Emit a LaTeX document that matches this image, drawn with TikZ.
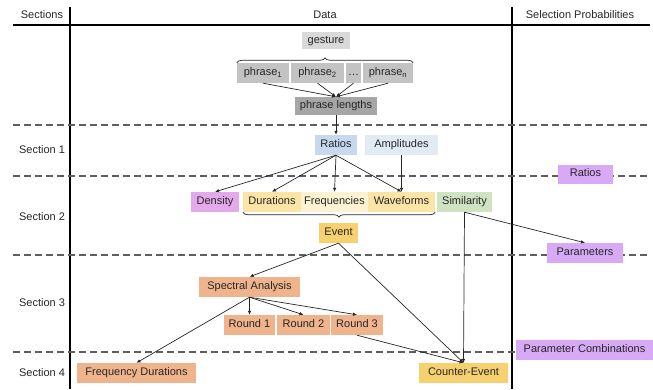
\documentclass[tikz,border=0pt]{standalone}
\usepackage{fontspec}
\setmainfont{Liberation Sans}
\usetikzlibrary{arrows.meta,decorations.pathreplacing}
\definecolor{ink}{HTML}{262626}
\definecolor{rule}{HTML}{5E5E5E}
\definecolor{grayA}{HTML}{D9D9D9}
\definecolor{grayB}{HTML}{C3C3C3}
\definecolor{grayC}{HTML}{A6A6A6}
\definecolor{blueA}{HTML}{C6D9EF}
\definecolor{blueB}{HTML}{E1EAF5}
\definecolor{plum}{HTML}{E4A9EB}
\definecolor{sand}{HTML}{FAE4A6}
\definecolor{cream}{HTML}{FDF2D2}
\definecolor{sage}{HTML}{CFE2C2}
\definecolor{gold}{HTML}{F7D06F}
\definecolor{peach}{HTML}{F0B48C}
\definecolor{lilac}{HTML}{D8AAF6}
\tikzset{
  box/.style={inner sep=0pt,minimum height=20,text height=8pt,text depth=2.2pt,
    text=ink,font=\fontsize{11}{13}\selectfont},
  head/.style={text=ink,font=\fontsize{11}{13}\selectfont},
  arr/.style={-{Latex[length=4pt,width=3.5pt]},line width=0.7pt,draw=ink},
  sep/.style={draw=rule,line width=1.2pt,dash pattern=on 7pt off 4pt},
  frame/.style={draw=black,line width=1.5pt},
  brace/.style={decorate,decoration={brace,amplitude=5pt},line width=0.7pt,draw=ink},
}
\begin{document}
\begin{tikzpicture}[x=1pt,y=-1pt]
  \useasboundingbox (0,0) rectangle (653,389);
  % frame and header
  \draw[frame] (13,25) -- (650,25);
  \draw[frame] (70,7) -- (70,389);
  \draw[frame] (512,7) -- (512,389);
  \node[head] (hsec) at (42,15) {Sections};
  \node[head] (hdata) at (325,15) {Data};
  \node[head] (hprob) at (580,15) {Selection Probabilities};
  % section separators and labels
  \foreach \y in {125,176,255,352}{ \draw[sep] (13,\y) -- (650,\y); }
  \foreach \y/\n in {150/1,217/2,303/3,373/4}{ \node[head] (sec\n) at (42,\y) {Section \n}; }
  % gesture and phrases
  \node[box,fill=grayA,minimum width=48,minimum height=17] (gesture) at (326,40.5) {gesture};
  \node[box,fill=grayB,minimum width=52] (ph1) at (263,73) {phrase\textsubscript{1}};
  \node[box,fill=grayB,minimum width=53] (ph2) at (317.5,73) {phrase\textsubscript{2}};
  \node[box,fill=grayB,minimum width=15] (phdots) at (353.5,73) {\dots};
  \node[box,fill=grayB,minimum width=50] (phn) at (388,73) {phrase\textsubscript{n}};
  \draw[brace] (ph1.north west) -- (phn.north east);
  \node[box,fill=grayC,minimum width=82,minimum height=18] (phlen) at (336,106) {phrase lengths};
  \foreach \p in {ph1,ph2,phdots,phn}{ \draw[arr] (\p.south) -- (phlen.north); }
  % section 1
  \node[box,fill=blueA,minimum width=42] (ratios) at (336,145) {Ratios};
  \node[box,fill=blueB,minimum width=73] (ampl) at (401.5,145) {Amplitudes};
  \draw[arr] (phlen.south) -- (ratios.north);
  % section 2
  \node[box,fill=plum,minimum width=48] (density) at (215,202) {Density};
  \node[box,fill=sand,minimum width=58] (durations) at (272,202) {Durations};
  \node[box,fill=cream,minimum width=67] (freqs) at (334.5,202) {Frequencies};
  \node[box,fill=sand,minimum width=67] (waveforms) at (401.5,202) {Waveforms};
  \node[box,fill=sage,minimum width=55] (similarity) at (464.5,202) {Similarity};
  \draw[brace,decoration={mirror}] (durations.south west) -- (waveforms.south east);
  \node[box,fill=gold,minimum width=39] (event) at (338.5,233) {Event};
  \foreach \t in {density,durations,freqs,waveforms}{ \draw[arr] (ratios.south) -- (\t.north); }
  \draw[arr] (ampl.south) -- (waveforms.north);
  % section 3 and 4
  \node[box,fill=peach,minimum width=101] (spectral) at (249.5,287) {Spectral Analysis};
  \node[box,fill=peach,minimum width=51] (round1) at (249.5,325) {Round 1};
  \node[box,fill=peach,minimum width=53] (round2) at (303.5,325) {Round 2};
  \node[box,fill=peach,minimum width=52] (round3) at (357,325) {Round 3};
  \node[box,fill=peach,minimum width=119] (freqdur) at (136.5,373) {Frequency Durations};
  \node[box,fill=gold,minimum width=89] (counter) at (463.5,373) {Counter-Event};
  \draw[arr] (event.south) -- (spectral.north);
  \draw[arr] (event.south) -- (counter.north);
  \foreach \t in {round1,round2,round3,freqdur}{ \draw[arr] (spectral.south) -- (\t.north); }
  \draw[arr] (round3.south) -- (counter.north);
  \draw[arr] (similarity.south) -- (counter.north);
  % selection probabilities
  \node[box,fill=lilac,minimum width=55,minimum height=19] (pratios) at (585.5,174) {Ratios};
  \node[box,fill=lilac,minimum width=76] (pparams) at (585,253) {Parameters};
  \node[box,fill=lilac,minimum width=137] (pcombos) at (584.5,350) {Parameter Combinations};
  \draw[arr] (similarity.south) -- (pparams.north);
\end{tikzpicture}
\end{document}
